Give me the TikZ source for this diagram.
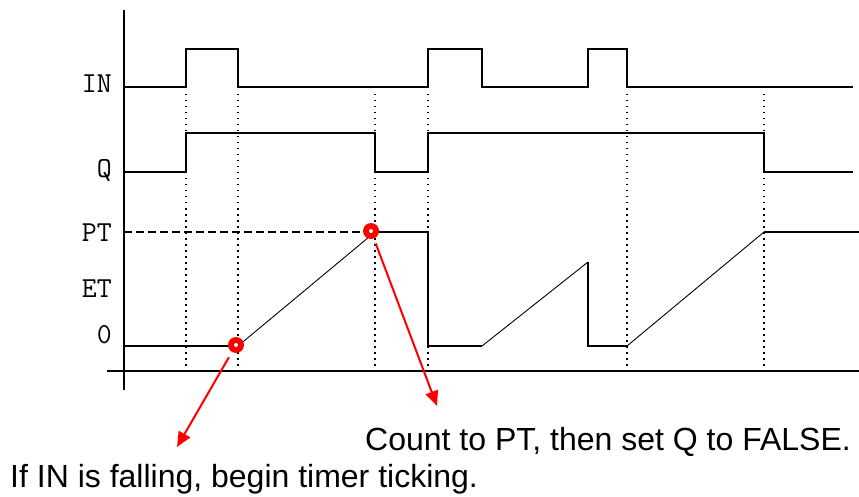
\documentclass[tikz,border=0pt]{standalone}
\usepackage{fontspec}
\setmainfont{Liberation Sans}
\usepackage{tikz}
\usetikzlibrary{arrows.meta}

\tikzset{
    signal/.style={line width=1.6pt, line join=miter},
    ramp/.style={line width=0.9pt},
    guide/.style={line width=1.5pt, dash pattern=on 1.5pt off 4.5pt},
    siglabel/.style={anchor=east, inner sep=0pt, font=\fontsize{29}{30}\selectfont\ttfamily},
    marker/.style={circle, fill=red, minimum size=16pt, inner sep=0pt},
    callout/.style={draw=red, line width=2pt, -{Triangle[length=15pt,width=13pt]}},
    note/.style={inner sep=0pt, font=\fontsize{32}{36}\selectfont}
}

\begin{document}
\begin{tikzpicture}[x=1pt, y=-1pt]
    \useasboundingbox (0,0) rectangle (859,497);

    % Draw axes
    \draw[signal] (124,10) -- (124,390);
    \draw[signal] (107,371) -- (859,371);

    % Signal names
    \node[siglabel] (lblin) at (112,84) {IN};
    \node[siglabel] (lblq) at (112,170) {Q};
    \node[siglabel] (lblpt) at (112,233) {PT};
    \node[siglabel] (lblet) at (112,289) {ET};
    \node[siglabel] (lblzero) at (112,335) {0};

    % Guide lines at the edges
    \foreach \x in {186,238,375,428,627,764}
        \draw[guide] (\x,94) -- (\x,368);
    \draw[line width=1.4pt, dash pattern=on 8pt off 4pt] (124,232) -- (375,232);

    % IN and Q
    \draw[signal] (124,87) -- (186,87) -- (186,49) -- (238,49) -- (238,87) -- (428,87)
        -- (428,49) -- (482,49) -- (482,87) -- (588,87) -- (588,49) -- (627,49)
        -- (627,87) -- (853,87);
    \draw[signal] (124,172) -- (186,172) -- (186,133) -- (375,133) -- (375,172) -- (428,172)
        -- (428,133) -- (764,133) -- (764,172) -- (853,172);

    % ET
    \draw[signal] (124,346) -- (238,346);
    \draw[ramp] (238,346) -- (375,232);
    \draw[signal] (375,232) -- (428,232) -- (428,346) -- (482,346);
    \draw[ramp] (482,346) -- (588,262);
    \draw[signal] (588,262) -- (588,346) -- (627,346);
    \draw[ramp] (627,346) -- (764,232);
    \draw[signal] (764,232) -- (859,232);

    % Red markers and notes
    \node[marker] (tick) at (236,345) {};
    \node[marker] (reach) at (371,231) {};
    \fill[white] (tick.center) circle (2pt);
    \fill[white] (reach.center) circle (2pt);

    \node[note, anchor=base east] (counttext) at (851,450) {Count to PT, then set Q to FALSE.};
    \node[note, anchor=base west] (falltext) at (10,487) {If IN is falling, begin timer ticking.};

    \coordinate (tickend) at (177,447);
    \coordinate (reachend) at (437,406);
    \draw[callout, shorten <=6pt] (tick) -- (tickend);
    \draw[callout, shorten <=5pt] (reach) -- (reachend);
\end{tikzpicture}
\end{document}
